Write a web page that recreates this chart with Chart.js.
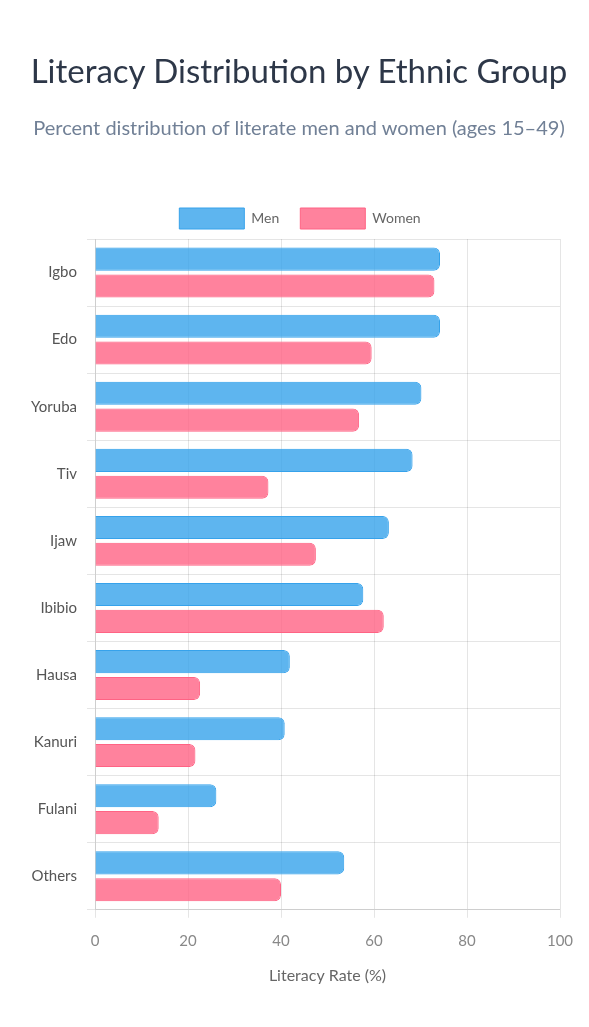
<!DOCTYPE html>
<html>
<head>
<meta charset="utf-8">
<title>Literacy Distribution by Ethnic Group</title>
<script src="https://cdn.jsdelivr.net/npm/chart.js@4.4.0/dist/chart.umd.min.js"></script>
<style>
  html, body { margin: 0; padding: 0; background: #ffffff; }
  #wrap { position: relative; width: 589px; height: 1027px; font-family: 'Lato', 'Open Sans', sans-serif; }
  .head { position: absolute; left: 9px; right: 0; text-align: center; white-space: nowrap; margin: 0; font-weight: normal; }
  #title { top: 50px; font-size: 33px; line-height: 40px; color: #2d3748; }
  #subtitle { top: 115px; font-size: 20px; line-height: 24px; color: #718096; }
  #literacyChart { position: absolute; left: 0; top: 0; }
</style>
</head>
<body>
<div id="wrap">
  <canvas id="literacyChart"></canvas>
  <h1 class="head" id="title">Literacy Distribution by Ethnic Group</h1>
  <h2 class="head" id="subtitle">Percent distribution of literate men and women (ages 15–49)</h2>
</div>
<script>
// Data
const groups = ['Igbo', 'Edo', 'Yoruba', 'Tiv', 'Ijaw', 'Ibibio', 'Hausa', 'Kanuri', 'Fulani', 'Others'];
const menRates = [74.2, 74.2, 70.2, 68.3, 63.2, 57.7, 41.9, 40.8, 26.1, 53.6];
const womenRates = [73.0, 59.5, 56.8, 37.3, 47.5, 62.1, 22.6, 21.6, 13.7, 40.0];
const rateTicks = [0, 20, 40, 60, 80, 100];

const fontFamily = "'Lato', 'Open Sans', sans-serif";

// nudge the legend a little right so it centres like the title
const legendNudge = {
    id: 'legendNudge',
    afterLayout(chart) {
        if (chart.legend) { chart.legend.left += 8; chart.legend.right += 8; }
    }
};

document.addEventListener('DOMContentLoaded', () => {
    const ctx = document.getElementById('literacyChart').getContext('2d');
    new Chart(ctx, {
        type: 'bar',
        data: {
            labels: groups,
            datasets: [
                {
                    label: 'Men', data: menRates,
                    backgroundColor: 'rgba(54, 162, 235, 0.8)', borderColor: 'rgba(54, 162, 235, 1)',
                    borderWidth: 1, borderRadius: 6, borderSkipped: 'start',
                    categoryPercentage: 0.8, barPercentage: 0.86
                },
                {
                    label: 'Women', data: womenRates,
                    backgroundColor: 'rgba(255, 99, 132, 0.8)', borderColor: 'rgba(255, 99, 132, 1)',
                    borderWidth: 1, borderRadius: 6, borderSkipped: 'start',
                    categoryPercentage: 0.8, barPercentage: 0.86
                }
            ]
        },
        options: {
            indexAxis: 'y',
            responsive: true, maintainAspectRatio: false,
            animation: false,
            layout: { padding: { top: 187, left: 24, right: 29, bottom: 38 } },
            plugins: {
                legend: {
                    position: 'top',
                    labels: { boxWidth: 65, boxHeight: 21, color: '#666', padding: 21, font: { family: fontFamily, size: 14 } }
                },
                tooltip: { enabled: false }
            },
            scales: {
                x: {
                    min: 0, max: 100,
                    afterBuildTicks: (axis) => { axis.ticks = rateTicks.map(v => ({ value: v })); },
                    grid: { color: 'rgba(0,0,0,0.1)' },
                    ticks: { color: '#888', padding: 14, font: { family: fontFamily, size: 15 } },
                    title: { display: true, text: 'Literacy Rate (%)', color: '#666', padding: { top: 2 }, font: { family: fontFamily, size: 16 } }
                },
                y: {
                    afterFit: (axis) => { axis.width = 71; },
                    grid: { color: 'rgba(0,0,0,0.1)', offset: true },
                    ticks: { color: '#555', padding: 10, font: { family: fontFamily, size: 15 } }
                }
            }
        },
        plugins: [legendNudge]
    });
});
</script>
</body>
</html>
